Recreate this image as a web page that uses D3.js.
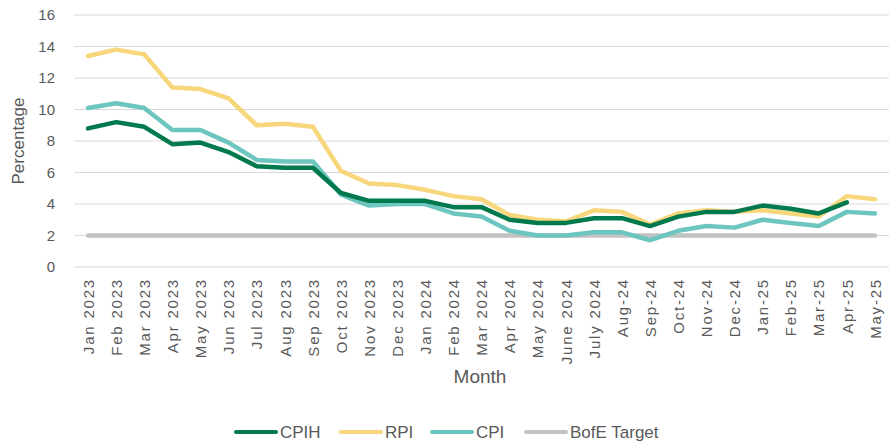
<!DOCTYPE html>
<html>
<head>
<meta charset="utf-8">
<script src="https://cdn.jsdelivr.net/npm/d3@7"></script>
<style>
  body { margin: 0; background: #fff; }
  text { font-family: "Liberation Sans", Arial, sans-serif; }
</style>
</head>
<body>
<div id="chart"></div>
<script>
// Data
const months = ["Jan 2023","Feb 2023","Mar 2023","Apr 2023","May 2023","Jun 2023","Jul 2023","Aug 2023","Sep 2023",
  "Oct 2023","Nov 2023","Dec 2023","Jan 2024","Feb 2024","Mar 2024","Apr 2024","May 2024","June 2024","July 2024",
  "Aug-24","Sep-24","Oct-24","Nov-24","Dec-24","Jan-25","Feb-25","Mar-25","Apr-25","May-25"];
const cpih = [8.8,9.2,8.9,7.8,7.9,7.3,6.4,6.3,6.3,4.7,4.2,4.2,4.2,3.8,3.8,3.0,2.8,2.8,3.1,3.1,2.6,3.2,3.5,3.5,3.9,3.7,3.4,4.1,null];
const rpi  = [13.4,13.8,13.5,11.4,11.3,10.7,9.0,9.1,8.9,6.1,5.3,5.2,4.9,4.5,4.3,3.3,3.0,2.9,3.6,3.5,2.7,3.4,3.6,3.5,3.6,3.4,3.2,4.5,4.3];
const cpi  = [10.1,10.4,10.1,8.7,8.7,7.9,6.8,6.7,6.7,4.6,3.9,4.0,4.0,3.4,3.2,2.3,2.0,2.0,2.2,2.2,1.7,2.3,2.6,2.5,3.0,2.8,2.6,3.5,3.4];
const target = months.map(() => 2);
const yTicks = [0,2,4,6,8,10,12,14,16];

const series = [
  { name: "BofE Target", values: target, color: "#c2c2c2" },
  { name: "CPI",  values: cpi,  color: "#6cc5be" },
  { name: "RPI",  values: rpi,  color: "#f8d77c" },
  { name: "CPIH", values: cpih, color: "#007a4d" }
];
const legendOrder = ["CPIH","RPI","CPI","BofE Target"];

// Layout
const W = 889, H = 445;
const margin = { top: 15, right: 0, bottom: 178, left: 74 };
const width = W - margin.left - margin.right;
const height = H - margin.top - margin.bottom;

const svg = d3.select("#chart").append("svg")
  .attr("width", W).attr("height", H);
const g = svg.append("g").attr("transform", `translate(${margin.left},${margin.top})`);

const x = d3.scalePoint().domain(months).range([0, width]).padding(0.5);
const y = d3.scaleLinear().domain([0, 16]).range([height, 0]);

// gridlines
g.append("g").selectAll("line").data(yTicks).enter().append("line")
  .attr("x1", 0).attr("x2", width)
  .attr("y1", d => y(d)).attr("y2", d => y(d))
  .attr("stroke", "#d9d9d9").attr("stroke-width", 1);

// y axis
const yAxis = g.append("g")
  .call(d3.axisLeft(y).tickValues(yTicks).tickSize(0).tickPadding(19));
yAxis.select(".domain").remove();
yAxis.selectAll("text").attr("font-size", 15).attr("fill", "#595959")
  .style("font-family", "'Liberation Sans', Arial, sans-serif");

// x axis
const xAxis = g.append("g").attr("transform", `translate(0,${height})`)
  .call(d3.axisBottom(x).tickSize(0));
xAxis.select(".domain").remove();
xAxis.selectAll("text")
  .attr("font-size", 15).attr("fill", "#595959")
  .attr("letter-spacing", "1.8px")
  .attr("transform", "rotate(-90)")
  .attr("text-anchor", "end")
  .attr("x", -11).attr("y", 0).attr("dy", "0.35em")
  .style("font-family", "'Liberation Sans', Arial, sans-serif");

// axis titles
svg.append("text")
  .attr("transform", "rotate(-90)")
  .attr("x", -(margin.top + height / 2)).attr("y", 24)
  .attr("text-anchor", "middle")
  .attr("font-size", 17).attr("fill", "#595959")
  .text("Percentage");

svg.append("text")
  .attr("x", 480).attr("y", 383)
  .attr("text-anchor", "middle")
  .attr("font-size", 19).attr("fill", "#595959")
  .style("font-family", "'Liberation Sans Narrow', 'Liberation Sans', Arial, sans-serif")
  .text("Month");

// lines
const line = d3.line()
  .defined(d => d.v != null)
  .x(d => x(d.m)).y(d => y(d.v));

series.forEach(s => {
  g.append("path")
    .datum(months.map((m, i) => ({ m, v: s.values[i] })))
    .attr("fill", "none")
    .attr("stroke", s.color)
    .attr("stroke-width", 4.5)
    .attr("stroke-linejoin", "round")
    .attr("stroke-linecap", "round")
    .attr("d", line);
});

// legend
const legendX = [236, 341, 432, 526];
const legend = svg.append("g").attr("transform", "translate(0,432)");
legendOrder.forEach((name, i) => {
  const s = series.find(d => d.name === name);
  legend.append("line")
    .attr("x1", legendX[i]).attr("x2", legendX[i] + 40)
    .attr("y1", 0).attr("y2", 0)
    .attr("stroke", s.color).attr("stroke-width", 4)
    .attr("stroke-linecap", "round");
  legend.append("text")
    .attr("x", legendX[i] + 44).attr("y", 0).attr("dy", "0.35em")
    .attr("font-size", 17).attr("fill", "#595959")
    .style("font-family", "'Liberation Sans Narrow', 'Liberation Sans', Arial, sans-serif")
    .text(name);
});
</script>
</body>
</html>
